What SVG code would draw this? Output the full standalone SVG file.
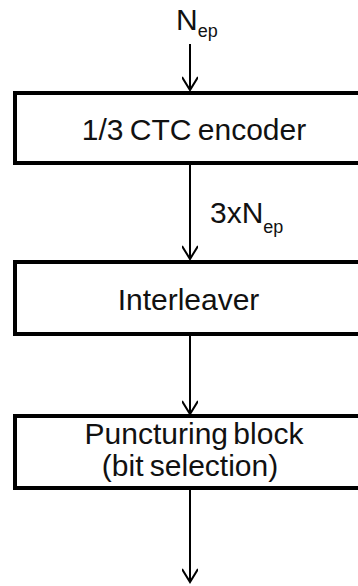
<svg xmlns="http://www.w3.org/2000/svg" width="358" height="586" viewBox="0 0 358 586">
<style>
.box{fill:#fff;stroke:#000;stroke-width:4}
.t{font-family:"Liberation Sans",Arial,sans-serif;font-size:30px;fill:#111;text-anchor:middle}
.l{font-family:"Liberation Sans",Arial,sans-serif;font-size:30px;fill:#111}
.sub{font-size:18px}
.c{fill:none;stroke:#000;stroke-width:2}
</style>
<defs>
<marker id="ah" markerWidth="20" markerHeight="16" refX="14" refY="8" orient="auto" markerUnits="userSpaceOnUse">
<path d="M1,0 L14,8 L1,16" fill="none" stroke="#000" stroke-width="2"/>
</marker>
</defs>
<rect width="358" height="586" fill="#fff"/>
<g id="connectors">
<line class="c" x1="190" y1="44" x2="190" y2="90" marker-end="url(#ah)"/>
<line class="c" x1="190" y1="165" x2="190" y2="259" marker-end="url(#ah)"/>
<line class="c" x1="190" y1="336" x2="190" y2="414" marker-end="url(#ah)"/>
<line class="c" x1="190" y1="490" x2="190" y2="582" marker-end="url(#ah)"/>
</g>
<g id="in-label">
<text class="l" x="176" y="30">N<tspan class="sub" dy="7">ep</tspan></text>
</g>
<g id="mid-label">
<text class="l" x="210" y="223">3xN<tspan class="sub" dy="10">ep</tspan></text>
</g>
<g id="encoder">
<rect class="box" x="15" y="93" width="350" height="70"/>
<text class="t" x="194" y="140" word-spacing="-2">1/3 CTC encoder</text>
</g>
<g id="interleaver">
<rect class="box" x="15" y="262" width="350" height="72"/>
<text class="t" x="188.5" y="310">Interleaver</text>
</g>
<g id="puncturing">
<rect class="box" x="15" y="416" width="350" height="72"/>
<text class="t" x="194" y="444" word-spacing="-3">Puncturing block</text>
<text class="t" x="190" y="476" word-spacing="-2">(bit selection)</text>
</g>
</svg>
